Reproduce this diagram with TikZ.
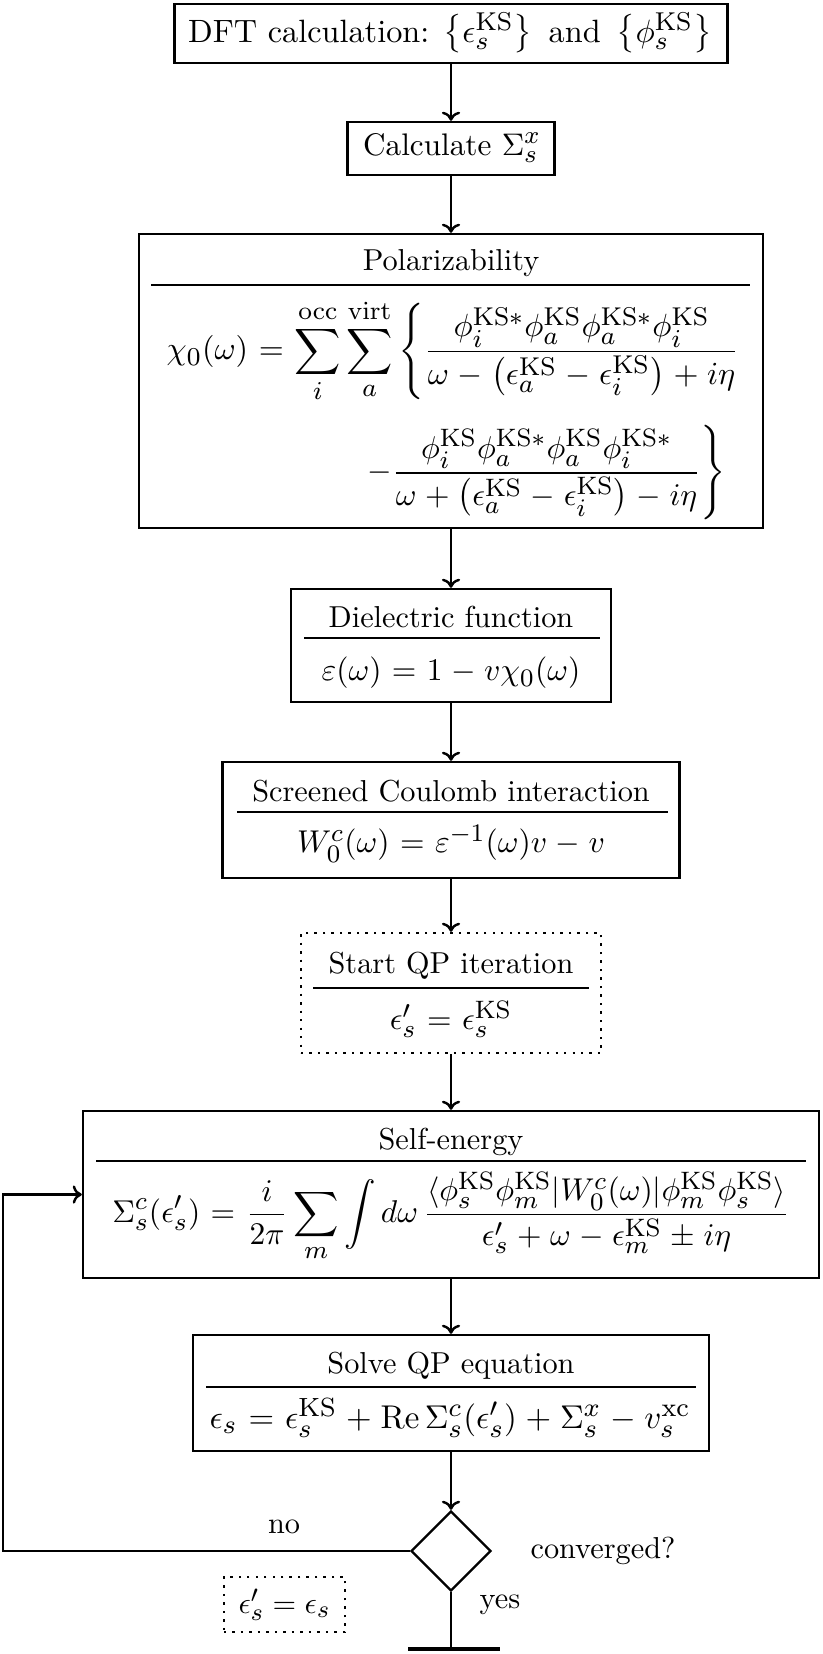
\documentclass[tikz,border=0pt]{standalone}
\usepackage{amsmath}
\DeclareMathSizes{10}{10}{8}{6}
\usetikzlibrary{shapes.geometric,arrows.meta}
\begin{document}
\def\u{0.33pt}
\newcommand{\KS}{\mathrm{KS}}
\begin{tikzpicture}[x=0.33pt,y=-0.33pt,
  box/.style={draw,thick,inner sep=0pt},
  dbox/.style={draw,thick,dotted,inner sep=0pt},
  rulel/.style={line width=0.4pt},
  arr/.style={thick,-{To[length=3pt,width=6pt]}},
  ln/.style={thick},
  txt/.style={inner sep=0pt,anchor=center},
  mth/.style={inner sep=0pt,scale=1.04,execute at begin node={\thickmuskip=6mu plus 5mu\medmuskip=4.8mu plus 2mu minus 4mu}}]
\useasboundingbox (0,0) rectangle (822,1654);
% boxes
\node[box,minimum width=553*\u,minimum height=59*\u] (b1) at (451,33.5) {};
\node[txt,scale=1.065] (t1) at (450,33) {DFT calculation: $\bigl\{\epsilon_s^{\KS}\bigr\}$\ \,and\ \,$\bigl\{\phi_s^{\KS}\bigr\}$};
\node[box,minimum width=207*\u,minimum height=53*\u] (b2) at (451,148.5) {};
\node[txt,scale=1.03] (t2) at (452,148) {Calculate $\Sigma_s^x$};
\node[box,minimum width=624*\u,minimum height=294*\u] (b3) at (451,381) {};
\node[box,minimum width=320*\u,minimum height=113*\u] (b4) at (451,645.5) {};
\node[box,minimum width=457*\u,minimum height=116*\u] (b5) at (451,820) {};
\node[dbox,minimum width=300*\u,minimum height=120*\u] (b6) at (451,993) {};
\node[box,minimum width=736*\u,minimum height=167*\u] (b7) at (451,1194.5) {};
\node[box,minimum width=516*\u,minimum height=116*\u] (b8) at (451,1393) {};
\node[draw,thick,shape=diamond,aspect=1,minimum width=80*\u,minimum height=80*\u,inner sep=0pt] (dia) at (451,1551) {};
% titles and rules
\node[txt] (t3) at (451,263) {Polarizability};
\draw[rulel] (151,285) -- (750,285);
\node[txt] (t4) at (451,617) {Dielectric function};
\draw[rulel] (304,638) -- (600,638);
\node[txt] (t5) at (451,791) {Screened Coulomb interaction};
\draw[rulel] (237,812) -- (668,812);
\node[txt] (t6) at (451,966) {Start QP iteration};
\draw[rulel] (313,988) -- (589,988);
\node[txt] (t7) at (451,1142) {Self-energy};
\draw[rulel] (96,1161) -- (806,1161);
\node[txt] (t8) at (451,1366) {Solve QP equation};
\draw[rulel] (206,1387) -- (696,1387);
% formulas
\node[mth,scale=1.02,anchor=west] (f3a) at (166,351) {$\displaystyle \chi_0(\omega)=\sum_i^{\mathrm{occ}}\sum_a^{\mathrm{virt}}\left\{\frac{\phi_i^{\KS*}\phi_a^{\KS}\phi_a^{\KS*}\phi_i^{\KS}}{\omega-\bigl(\epsilon_a^{\KS}-\epsilon_i^{\KS}\bigr)+i\eta}\right.$};
\node[mth,anchor=east] (f3b) at (727,473) {$\displaystyle \left.-\frac{\phi_i^{\KS}\phi_a^{\KS*}\phi_a^{\KS}\phi_i^{\KS*}}{\omega+\bigl(\epsilon_a^{\KS}-\epsilon_i^{\KS}\bigr)-i\eta}\right\}$};
\node[mth] (f4) at (451,673) {$\varepsilon(\omega)=1-v\chi_0(\omega)$};
\node[mth] (f5) at (451,844) {$W_0^c(\omega)=\varepsilon^{-1}(\omega)v-v$};
\node[mth] (f6) at (451,1019) {$\epsilon'_s=\epsilon_s^{\KS}$};
\node[mth] (f7) at (451,1217) {$\displaystyle \Sigma_s^c(\epsilon'_s)=\frac{i}{2\pi}\sum_m\int d\omega\,\frac{\langle\phi_s^{\KS}\phi_m^{\KS}|W_0^c(\omega)|\phi_m^{\KS}\phi_s^{\KS}\rangle}{\epsilon'_s+\omega-\epsilon_m^{\KS}\pm i\eta}$};
\node[mth,scale=1.045] (f8) at (450,1418) {$\epsilon_s=\epsilon_s^{\KS}+\mathrm{Re}\,\Sigma_s^c(\epsilon'_s)+\Sigma_s^x-v_s^{\mathrm{xc}}$};
% bottom labels
\node[txt] (no) at (284,1527) {no};
\node[txt] (conv) at (603,1551) {converged?};
\node[txt] (yes) at (500,1605) {yes};
\node[dbox,minimum width=121*\u,minimum height=55*\u] (upd) at (284.5,1604.5) {$\epsilon'_s=\epsilon_s$};
% connectors
\draw[arr] (b1) -- (b2);
\draw[arr] (b2) -- (b3);
\draw[arr] (b3) -- (b4);
\draw[arr] (b4) -- (b5);
\draw[arr] (b5) -- (b6);
\draw[arr] (b6) -- (b7);
\draw[arr] (b7) -- (b8);
\draw[arr] (b8) -- (dia);
\coordinate (lc) at (3,1551);
\draw[arr] (dia.west) -- (lc) |- (b7.west);
\coordinate (endc) at (451,1649);
\coordinate (endl) at (408,1649);
\coordinate (endr) at (500,1649);
\draw[ln] (dia.south) -- (endc);
\draw[very thick] (endl) -- (endr);
\end{tikzpicture}
\end{document}
